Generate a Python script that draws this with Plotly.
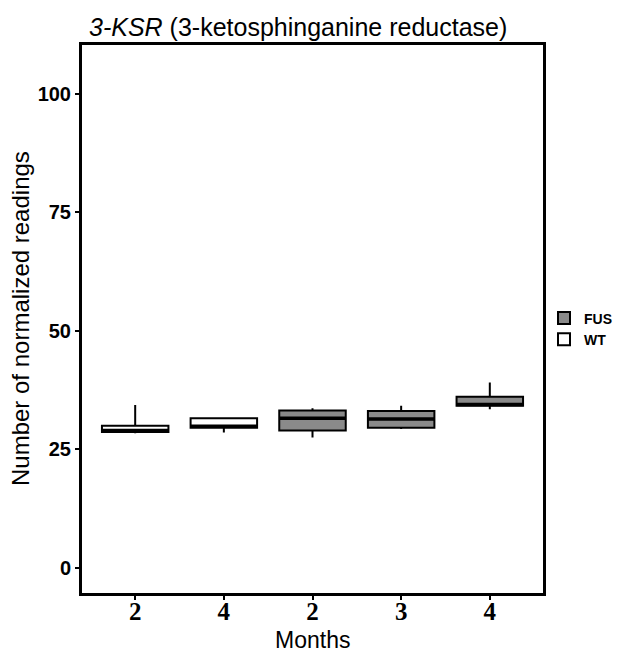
import plotly.graph_objects as go

# Categories (x positions 1..5) and tick labels
tick_labels = ["2", "4", "2", "3", "4"]
y_ticks = [0, 25, 50, 75, 100]

# WT group (positions 1, 2)
wt_pos = [1, 2]
wt_low = [28.4, 28.6]
wt_q1 = [28.7, 29.6]
wt_med = [29.0, 29.9]
wt_q3 = [30.0, 31.6]
wt_high = [34.4, 31.8]

# FUS group (positions 3, 4, 5)
fus_pos = [3, 4, 5]
fus_low = [27.5, 29.3, 33.5]
fus_q1 = [29.0, 29.6, 34.2]
fus_med = [31.6, 31.4, 34.5]
fus_q3 = [33.2, 33.1, 36.1]
fus_high = [33.7, 34.2, 39.1]

box_w = 0.75

# page has an 8px body margin; layout positions are given in page pixels minus that
OFF = 8
W, H = 632, 654
L, T = 82 - OFF, 45 - OFF
R = W - (543 - OFF)
B = H - (593 - OFF)
PW, PH = W - L - R, H - T - B

fig = go.Figure()

fig.add_trace(go.Box(
    name="FUS", x=fus_pos, q1=fus_q1, median=fus_med, q3=fus_q3,
    lowerfence=fus_low, upperfence=fus_high,
    fillcolor="#8a8a8a", line=dict(color="black", width=2),
    width=box_w, boxpoints=False, whiskerwidth=0,
))
fig.add_trace(go.Box(
    name="WT", x=wt_pos, q1=wt_q1, median=wt_med, q3=wt_q3,
    lowerfence=wt_low, upperfence=wt_high,
    fillcolor="white", line=dict(color="black", width=2),
    width=box_w, boxpoints=False, whiskerwidth=0,
))

# thick median lines
mx, my = [], []
for p, m in list(zip(wt_pos, wt_med)) + list(zip(fus_pos, fus_med)):
    mx += [p - box_w / 2, p + box_w / 2, None]
    my += [m, m, None]
fig.add_trace(go.Scatter(x=mx, y=my, mode="lines",
                         line=dict(color="black", width=3.5),
                         showlegend=False, hoverinfo="skip"))

fig.update_layout(
    width=W, height=H,
    margin=dict(l=L, r=R, t=T, b=B),
    plot_bgcolor="white", paper_bgcolor="white",
    boxmode="overlay",
    showlegend=True,
    legend=dict(xref="container", yref="container",
                x=(544 - OFF) / W, xanchor="left", y=1 - (329 - OFF) / H, yanchor="middle",
                font=dict(family="Liberation Sans", size=14, color="black", weight="bold"),
                bgcolor="rgba(0,0,0,0)", tracegroupgap=0, itemwidth=30),
    title=dict(text="<i>3-KSR</i> (3-ketosphinganine reductase)",
               xref="container", yref="container",
               x=(89 - OFF) / W, xanchor="left", y=1 - (27 - OFF) / H, yanchor="middle",
               font=dict(family="Liberation Sans", size=25, color="black")),
    annotations=[
        dict(text="Months", xref="paper", yref="paper",
             x=0.5, y=(H - B - (640 - OFF)) / PH, xanchor="center", yanchor="middle",
             showarrow=False, font=dict(family="Liberation Sans", size=23, color="black")),
        dict(text="Number of normalized readings", xref="paper", yref="paper",
             x=((20 - OFF) - L) / PW, y=0.5, xanchor="center", yanchor="middle", textangle=-90,
             showarrow=False, font=dict(family="Liberation Sans", size=24, color="black")),
    ],
)

fig.update_xaxes(
    range=[0.4, 5.6], tickmode="array", tickvals=[1, 2, 3, 4, 5],
    ticktext=tick_labels, automargin=False, ticklabelstandoff=-10,
    tickfont=dict(family="Liberation Serif", size=25, color="black", weight="bold"),
    ticks="outside", ticklen=4, tickwidth=2, tickcolor="black",
    showgrid=False, zeroline=False,
    showline=True, linecolor="black", linewidth=3, mirror=True,
)
fig.update_yaxes(
    range=[-5.25, 110.25], tickmode="array", tickvals=y_ticks,
    ticktext=[str(v) for v in y_ticks], automargin=False,
    tickfont=dict(family="Liberation Sans", size=20, color="black", weight="bold"),
    ticks="outside", ticklen=4, tickwidth=2, tickcolor="black",
    showgrid=False, zeroline=False,
    showline=True, linecolor="black", linewidth=3, mirror=True,
)

fig.write_html("out.html")
